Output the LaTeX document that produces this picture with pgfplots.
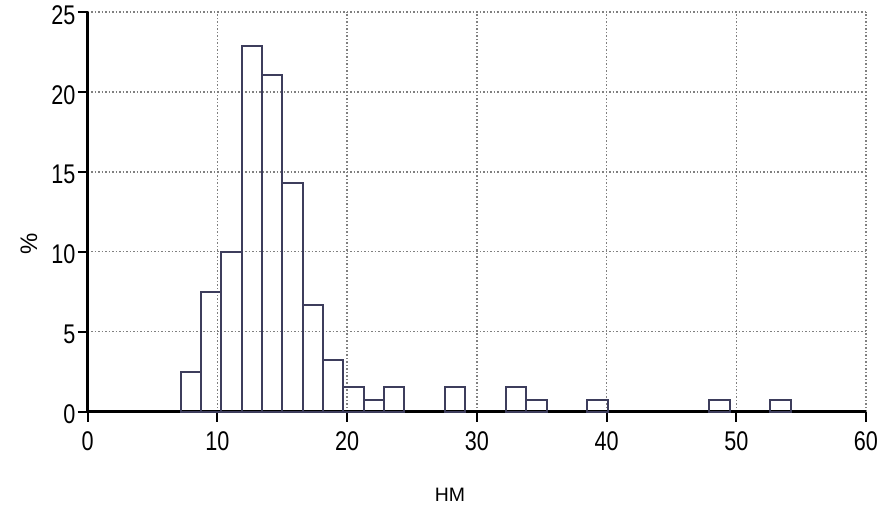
\documentclass[border=0pt]{standalone}
\usepackage{fontspec}
\setmainfont{Liberation Sans}
\newfontfamily\tickfont{Liberation Sans}[FakeStretch=0.8]
\usepackage{pgfplots}
\pgfplotsset{compat=1.18}
\definecolor{barline}{HTML}{3D3D5C}
\begin{document}
\begin{tikzpicture}
\begin{axis}[
  at={(0,0)}, anchor=south west,
  scale only axis,
  width=778.3bp, height=399.5bp,
  xmin=0, xmax=60, ymin=0, ymax=25,
  xtick={0,10,...,60}, ytick={0,5,...,25},
  axis x line=bottom, axis y line=left,
  axis line style={-, line width=2.5bp, black},
  tick align=outside,
  major tick length=10bp,
  tick style={black, line width=2bp},
  grid=major,
  major grid style={gray, line width=1.5bp, dash pattern=on 1.5bp off 2bp},
  /pgf/number format/assume math mode=true,
  tick label style={font=\tickfont\fontsize{27.1pt}{28pt}\selectfont, inner sep=2bp},
  xticklabel style={yshift=-8bp},
  yticklabel style={yshift=-3bp},
  xlabel={НМ},
  ylabel={\%},
  xlabel style={font=\fontsize{19.5pt}{20pt}\selectfont, at={(axis description cs:0.4655,-0.2078)}, anchor=center},
  ylabel style={font=\fontsize{24pt}{25pt}\selectfont, at={(axis description cs:-0.0754,0.419)}, anchor=center},
  clip=false,
]
\addplot[ybar interval, draw=barline, fill=none, line width=2bp] coordinates {
  (7.180,2.45) (8.747,7.47) (10.314,10.0) (11.881,22.87) (13.448,21.07)
  (15.015,14.28) (16.582,6.65) (18.149,3.2) (19.716,1.55) (21.283,0.7)
  (22.850,1.55) (24.417,0)
};
\addplot[ybar interval, draw=barline, fill=none, line width=2bp] coordinates {
  (27.551,1.55) (29.118,0)
};
\addplot[ybar interval, draw=barline, fill=none, line width=2bp] coordinates {
  (32.252,1.55) (33.819,0.7) (35.386,0)
};
\addplot[ybar interval, draw=barline, fill=none, line width=2bp] coordinates {
  (38.520,0.7) (40.087,0)
};
\addplot[ybar interval, draw=barline, fill=none, line width=2bp] coordinates {
  (47.922,0.7) (49.489,0)
};
\addplot[ybar interval, draw=barline, fill=none, line width=2bp] coordinates {
  (52.623,0.7) (54.190,0)
};
\end{axis}
\pgfresetboundingbox
\path (-87.7bp,-94.5bp) rectangle (801.3bp,411.5bp);
\end{tikzpicture}
\end{document}
